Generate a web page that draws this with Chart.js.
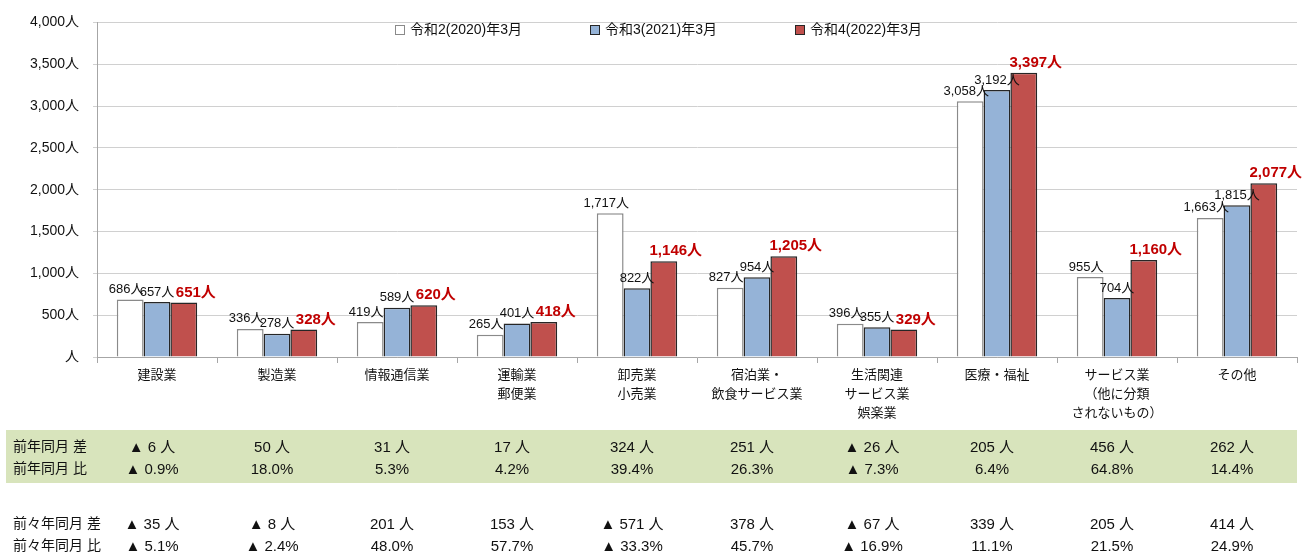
<!DOCTYPE html>
<html>
<head>
<meta charset="utf-8">
<script src="https://cdn.jsdelivr.net/npm/chart.js@4"></script>
<style>
  html, body { margin: 0; padding: 0; background: #fff; }
  #wrap { width: 1305px; height: 557px; position: relative; }
</style>
</head>
<body>
<div id="wrap"><canvas id="jobsChart"></canvas></div>
<script>
const categories = [
    ['建設業'], ['製造業'], ['情報通信業'], ['運輸業', '郵便業'], ['卸売業', '小売業'],
    ['宿泊業・', '飲食サービス業'], ['生活関連', 'サービス業', '娯楽業'], ['医療・福祉'],
    ['サービス業', '（他に分類', 'されないもの）'], ['その他']
];
const seriesNames = ['令和2(2020)年3月', '令和3(2021)年3月', '令和4(2022)年3月'];
const r2Values = [686, 336, 419, 265, 1717, 827, 396, 3058, 955, 1663];
const r3Values = [657, 278, 589, 401, 822, 954, 355, 3192, 704, 1815];
const r4Values = [651, 328, 620, 418, 1146, 1205, 329, 3397, 1160, 2077];

const rowLabels = ['前年同月 差', '前年同月 比', '前々年同月 差', '前々年同月 比'];
const diffPrevYear = ['▲ 6 人', '50 人', '31 人', '17 人', '324 人', '251 人', '▲ 26 人', '205 人', '456 人', '262 人'];
const ratioPrevYear = ['▲ 0.9%', '18.0%', '5.3%', '4.2%', '39.4%', '26.3%', '▲ 7.3%', '6.4%', '64.8%', '14.4%'];
const diffTwoYears = ['▲ 35 人', '▲ 8 人', '201 人', '153 人', '▲ 571 人', '378 人', '▲ 67 人', '339 人', '205 人', '414 人'];
const ratioTwoYears = ['▲ 5.1%', '▲ 2.4%', '48.0%', '57.7%', '▲ 33.3%', '45.7%', '▲ 16.9%', '11.1%', '21.5%', '24.9%'];

const FONT = "'Liberation Sans', 'Noto Sans CJK JP', sans-serif";

// labels above the bars
const barLabels = {
    id: 'barLabels',
    afterDatasetsDraw(chart) {
        const ctx = chart.ctx;
        const shift = [-4, 0, 12];
        ctx.save();
        ctx.textAlign = 'center';
        ctx.textBaseline = 'middle';
        chart.data.datasets.forEach((ds, di) => {
            const meta = chart.getDatasetMeta(di);
            if (di === 2) {
                ctx.font = "bold 15px " + FONT;
                ctx.fillStyle = '#C00000';
            } else {
                ctx.font = "13px " + FONT;
                ctx.fillStyle = '#111';
            }
            meta.data.forEach((bar, i) => {
                ctx.fillText(ds.data[i].toLocaleString('en-US') + '人', bar.x + shift[di], bar.y - 10);
            });
        });
        ctx.restore();
    }
};

// legend inside the plot area
const innerLegend = {
    id: 'innerLegend',
    afterDraw(chart) {
        const ctx = chart.ctx;
        const startX = [395, 590, 795];
        const y = 30;
        ctx.save();
        ctx.font = "14px " + FONT;
        ctx.textBaseline = 'middle';
        chart.data.datasets.forEach((ds, i) => {
            const x = startX[i];
            ctx.fillStyle = ds.backgroundColor;
            ctx.fillRect(x, y - 5, 10, 10);
            ctx.strokeStyle = ds.borderColor;
            ctx.lineWidth = 1;
            ctx.strokeRect(x + 0.5, y - 4.5, 9, 9);
            ctx.fillStyle = '#111';
            ctx.fillText(ds.label, x + 15, y);
        });
        ctx.restore();
    }
};

// comparison table under the axis
const compareTable = {
    id: 'compareTable',
    afterDraw(chart) {
        const ctx = chart.ctx;
        const xs = chart.scales.x;
        ctx.save();
        ctx.fillStyle = '#D8E4BC';
        ctx.fillRect(6, 430, 1291, 53);
        ctx.textBaseline = 'middle';
        const rows = [diffPrevYear, ratioPrevYear, diffTwoYears, ratioTwoYears];
        const rowY = [447, 469, 524, 546];
        rows.forEach((vals, r) => {
            ctx.font = "14px " + FONT;
            ctx.textAlign = 'left';
            ctx.fillStyle = '#111';
            ctx.fillText(rowLabels[r], 13, rowY[r]);
            ctx.font = "15px " + FONT;
            ctx.textAlign = 'center';
            vals.forEach((v, i) => {
                ctx.fillText(v, xs.getPixelForValue(i) - 5, rowY[r] + 1);
            });
        });
        ctx.restore();
    }
};

new Chart(document.getElementById('jobsChart'), {
    type: 'bar',
    data: {
        labels: categories,
        datasets: [
            { label: seriesNames[0], data: r2Values, backgroundColor: '#ffffff', borderColor: '#8a8a8a', borderWidth: 1.5 },
            { label: seriesNames[1], data: r3Values, backgroundColor: '#95B3D7', borderColor: '#262626', borderWidth: 1.5 },
            { label: seriesNames[2], data: r4Values, backgroundColor: '#C0504D', borderColor: '#262626', borderWidth: 1.5 }
        ]
    },
    options: {
        responsive: true,
        maintainAspectRatio: false,
        animation: false,
        categoryPercentage: 0.67,
        barPercentage: 1,
        layout: { padding: { top: 17, right: 8, left: 0, bottom: 0 } },
        plugins: {
            legend: { display: false },
            tooltip: { enabled: false }
        },
        scales: {
            x: {
                afterFit: s => { s.height = 200; },
                grid: { drawOnChartArea: false, drawTicks: true, tickLength: 6, color: '#a6a6a6' },
                border: { color: '#a6a6a6' },
                ticks: { color: '#111', font: { family: FONT, size: 13, lineHeight: 1.45 }, padding: 3, maxRotation: 0, autoSkip: false }
            },
            y: {
                min: 0,
                max: 4000,
                afterFit: s => { s.width = 97; },
                ticks: {
                    stepSize: 500,
                    color: '#111',
                    padding: 14,
                    font: { family: FONT, size: 14 },
                    callback: v => v === 0 ? '人' : v.toLocaleString('en-US') + '人'
                },
                grid: { color: '#d0d0d0', tickLength: 4 },
                border: { color: '#a6a6a6' }
            }
        }
    },
    plugins: [barLabels, innerLegend, compareTable]
});
</script>
</body>
</html>
